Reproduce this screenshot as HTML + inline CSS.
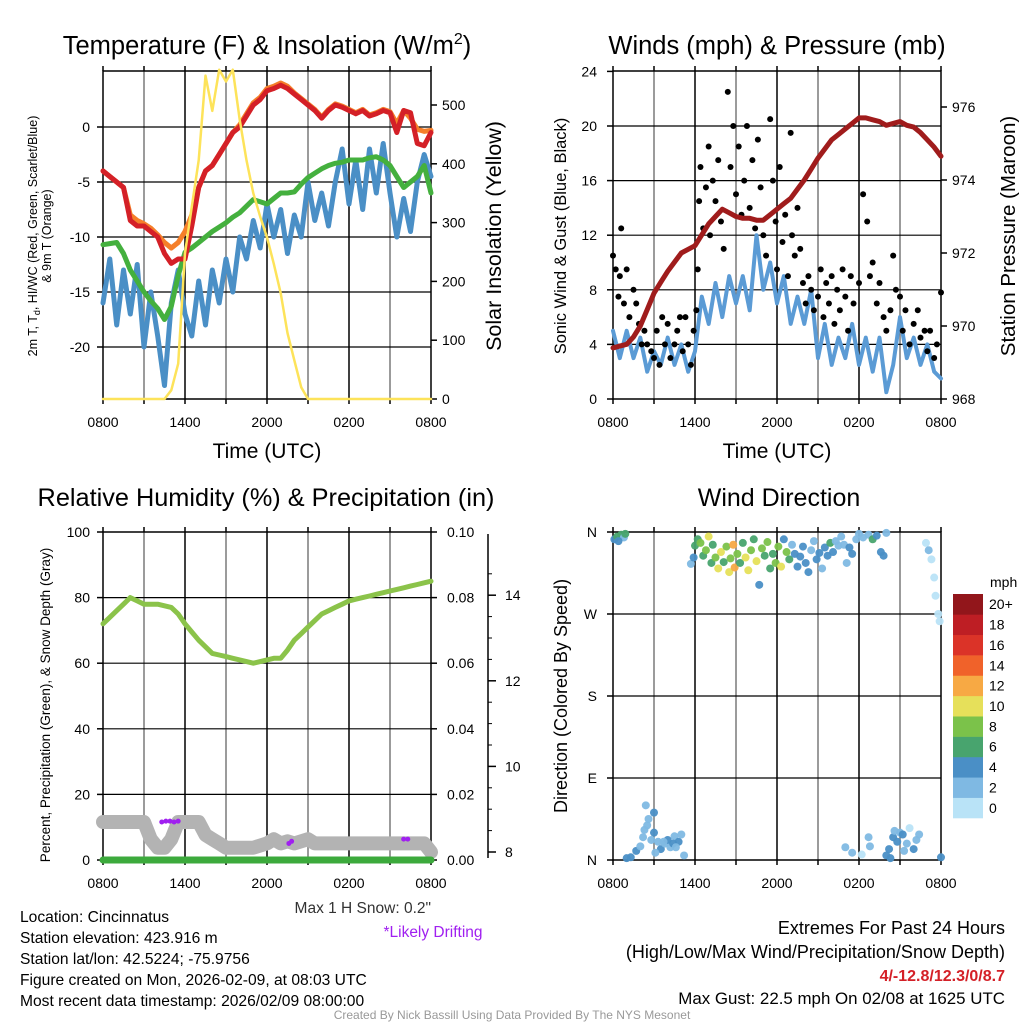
<!DOCTYPE html>
<html><head><meta charset="utf-8"><style>
body{margin:0;background:#fff;font-family:"Liberation Sans",sans-serif}
svg text{font-family:"Liberation Sans",sans-serif}
</style></head><body>
<svg id="s" width="1024" height="1024" viewBox="0 0 1024 1024" xmlns="http://www.w3.org/2000/svg"></svg>
<script>
// ---------- DATA ----------
const hours = [0,0.5,1,1.5,2,2.5,3,3.5,4,4.5,5,5.5,6,6.5,7,7.5,8,8.5,9,9.5,10,10.5,11,11.5,12,12.5,13,13.5,14,14.5,15,15.5,16,16.5,17,17.5,18,18.5,19,19.5,20,20.5,21,21.5,22,22.5,23,23.5,24];
const xTickLabels = ["0800","1400","2000","0200","0800"];
const tempRed = [-4,-4.5,-5,-5.5,-8.5,-9,-9,-9.5,-10,-11.5,-12.4,-12,-12,-9,-5.5,-4,-3.5,-2.5,-1.5,-0.5,0,1,2,2.5,3.3,3.5,3.8,3.5,3,2.5,2,1.5,0.8,1.5,2,1.8,1.5,1.2,1.5,1,1.2,1.5,1.3,-0.5,1.5,1.3,-1.5,-1.7,-0.5,-0.3,0,-1,-3.5];
const tempOrange = [-4,-4.5,-5,-5.5,-8,-8.5,-8.8,-9.2,-9.8,-10.5,-11,-10.5,-9.5,-8,-5.5,-4,-3.5,-2.5,-1.5,-0.5,0.2,1.2,2.2,2.7,3.5,3.7,4,3.7,3.1,2.6,2.1,1.6,0.9,1.6,2.1,1.9,1.6,1.3,1.6,1.1,1.3,1.6,1.4,0.3,1.5,0.8,-0.2,-0.4,-0.3,-0.2,0,-0.3,-1.2];
const tempGreen = [-10.7,-10.6,-10.5,-11.5,-13,-14,-15,-15.8,-16.5,-17.5,-16.3,-13.5,-11.4,-11,-10.5,-10,-9.5,-9.1,-8.7,-8.2,-7.8,-7.2,-6.6,-6.8,-7,-6.5,-6,-6,-5.9,-5.2,-4.6,-4.2,-3.8,-3.5,-3.3,-3.2,-3,-3,-3,-2.8,-2.7,-3,-3.5,-4.5,-5.5,-5,-4.5,-3.5,-6];
const tempBlue = [-16,-12,-18,-13,-17,-12.5,-20,-15,-19,-23.5,-16,-13,-17,-19,-14,-18,-13,-16,-12,-15,-10,-12,-8.5,-11,-7,-10,-7.5,-11.5,-8,-10,-5,-8.5,-6,-9,-5,-2,-7,-3,-7.5,-2,-6,-1.5,-6,-10,-6.5,-9.5,-5,-2.5,-4.5];
const insolation = [0,0,0,0,0,0,0,0,0,0,15,60,248,327,406,550,490,560,540,560,475,406,350,310,275,230,180,112,66,20,0,0,0,0,0,0,0,0,0,0,0,0,0,0,0,0,0,0,0];
const windSpeed = [5,3,5,3,4.5,2,3.5,2.5,4.5,2.5,4,2,3.5,7.5,5.5,8.5,6,9,7,9,6.5,12,8,10,7,9,5.5,7.5,5.5,8,3,5.5,2.5,4.5,3,5.5,2.5,4.5,2,4.5,0.5,2.5,6,3,4.5,2.5,4,2,1.5];
const pressure = [969.4,969.45,969.5,969.7,970.0,970.45,970.9,971.2,971.5,971.75,972.0,972.1,972.2,972.5,972.8,973.0,973.2,973.1,973.0,972.95,972.95,972.9,972.9,973.05,973.2,973.35,973.5,973.75,974.0,974.3,974.6,974.85,975.1,975.25,975.4,975.55,975.7,975.7,975.65,975.6,975.5,975.55,975.6,975.5,975.45,975.3,975.1,974.9,974.65];
const gustHours = [0,0.2,0.4,0.5,0.6,0.8,1,1.2,1.5,1.7,1.9,2.1,2.3,2.5,2.8,3,3.2,3.4,3.6,3.8,4,4.2,4.5,4.7,4.9,5.1,5.3,5.5,5.7,5.9,6.1,6.2,6.3,6.4,6.6,6.8,7,7.1,7.3,7.5,7.7,7.9,8.1,8.4,8.6,8.8,9,9.2,9.4,9.6,9.8,10,10.2,10.4,10.6,10.8,11,11.2,11.5,11.7,11.9,12,12.2,12.4,12.6,12.8,13,13.1,13.3,13.5,13.7,13.9,14.1,14.3,14.5,14.7,15,15.2,15.4,15.6,15.8,16,16.2,16.4,16.6,16.8,17,17.2,17.4,17.6,18,18.3,18.6,18.8,19,19.3,19.5,19.8,20,20.3,20.5,20.7,21,21.2,21.4,21.7,22,22.3,22.5,22.8,23,23.2,23.5,23.7,24];
const gustValues = [10.5,9.5,7.5,9,12.5,7,9.5,6,8,7,5.5,4,5,4,3.5,3,5,2.5,6,4,5.5,3,4,5,6,3.5,6,4,2.5,5,6.5,9.5,14.5,17,12.5,15.5,18.5,12,16,14.5,17.5,13,11,22.5,17,20,15,18.5,13.5,16,20,14,17.5,12.5,19,15.5,12,10.5,20.5,16,13,9.5,17,11.5,13.5,9,19.5,12,10.5,14,11,8.5,7,9,8,6.5,7.5,9.5,6,8.5,7,9,5.5,8,6.5,9.5,7.5,5,9,7,8.5,15,13,9,10,7,8.5,6,5,6.5,10.5,8,7.5,5,6.5,4,5.5,6.5,4.5,5,3.5,5,3,4,7.8];
const rh = [72,74,76,78,80,79,78,78,78,77.5,77,75,72,69.5,67,65,63,62.5,62,61.5,61,60.5,60,60.5,61,61.5,61.5,64,67,69,71,73,75,76,77,78,79,79.5,80,80.5,81,81.5,82,82.5,83,83.5,84,84.5,85];
const precip = [0,0,0,0,0,0,0,0,0,0,0,0,0,0,0,0,0,0,0,0,0,0,0,0,0,0,0,0,0,0,0,0,0,0,0,0,0,0,0,0,0,0,0,0,0,0,0,0,0];
const snowDepth = [8.7,8.7,8.7,8.7,8.7,8.7,8.7,8.3,8.1,8.1,8.3,8.7,8.7,8.7,8.7,8.4,8.3,8.2,8.1,8.1,8.1,8.1,8.1,8.15,8.2,8.3,8.2,8.25,8.2,8.25,8.3,8.2,8.2,8.2,8.2,8.2,8.2,8.2,8.2,8.2,8.2,8.2,8.2,8.2,8.2,8.2,8.2,8.2,8.0];
const driftHours = [4.3,4.6,4.9,5.2,5.5,13.6,13.8,22.0,22.3];
const driftDepth = [8.7,8.72,8.72,8.7,8.72,8.2,8.25,8.3,8.3];
const dirHours = [0.1,0.3,0.6,0.8,0.4,0.9,1,1.3,1.7,2,2.2,2.5,3,3.3,3.5,3.8,4,4.2,4.5,4.8,5,5.2,2.8,3.1,4.4,2.6,2.4,3,2.3,3.7,4.6,5.7,5.9,6,6.2,6.4,6.6,6.8,7,7.2,7.3,7.5,7.7,7.9,8.1,8.3,8.5,8.6,8.8,8.9,9.1,9.3,9.5,9.7,9.9,10.1,10.3,10.5,10.7,10.9,11.1,11.3,11.5,11.7,11.9,12.1,12.3,12.5,12.7,12.9,13.1,13.3,13.5,13.7,13.9,14.1,14.3,14.5,14.7,14.9,15.1,15.3,15.5,15.7,15.9,16.1,16.3,16.5,16.7,16.9,17.1,17.3,17.5,17.8,18,18.3,18.7,19,19.3,19.6,19.8,20,22.9,23.1,23.3,23.5,23.6,23.8,23.9,17,17.5,18.2,18.7,18.8,20,20.2,20.5,20.8,21,21.2,21.5,21.7,22,22.2,22.4,20.6,21.3,20.3,24];
const dirDegrees = [352,355,357,354,350,358,2,3,10,15,25,38,30,20,12,18,22,14,26,20,28,5,22,8,18,45,60,52,33,20,14,325,332,345,352,348,334,340,355,326,346,332,320,338,327,344,316,331,346,321,336,326,348,332,318,340,352,328,302,342,334,349,320,336,326,344,322,352,338,330,346,336,322,333,344,326,316,340,350,330,337,320,343,334,348,338,350,345,355,346,326,343,336,352,358,354,357,352,356,338,334,359,348,340,330,310,290,270,262,14,8,6,25,15,5,12,25,20,30,28,18,35,12,22,28,32,10,2,3];
const dirSpeeds = [4,6,6,2,4,6,4,4,4,2,2,2,4,2,4,2,4,2,2,4,2,2,2,2,4,2,2,4,2,2,2,2,4,6,6,8,6,8,10,6,6,8,10,10,6,8,10,8,12,12,8,6,6,10,10,8,6,10,4,8,6,8,6,6,8,8,10,4,8,6,2,4,4,4,4,4,4,2,2,4,4,2,4,4,6,4,2,2,2,2,2,4,4,2,2,2,2,6,4,4,4,2,0,2,0,0,0,0,0,2,2,0,2,2,4,4,4,4,2,4,2,0,4,2,2,2,2,4,4];
const speedBins = ["0","2","4","6","8","10","12","14","16","18","20+"];
const binColors = ["#b9e3f7","#7fb9e3","#4a8fc6","#48a46e","#7bc24a","#e6e05a","#f7a944","#f0622a","#db3328","#be1e24","#92161b"];

// ---------- HELPERS ----------
const S=document.getElementById('s');
const NS='http://www.w3.org/2000/svg';
function el(tag,attrs,parent){const e=document.createElementNS(NS,tag);for(const k in attrs)e.setAttribute(k,attrs[k]);(parent||S).appendChild(e);return e;}
function txt(x,y,t,size,anchor,extra,parent){const e=el('text',Object.assign({x:x,y:y,'font-size':size,'text-anchor':anchor||'middle',fill:'#000'},extra||{}),parent);e.textContent=t;return e;}
function line(x1,y1,x2,y2,stroke,w,parent){return el('line',{x1:x1,y1:y1,x2:x2,y2:y2,stroke:stroke,'stroke-width':w},parent);}

function panel(x0,y0){return {x0:x0,y0:y0,w:328,h:328,xs:h=>x0+h*328/24};}
const P1=panel(103,71),P2=panel(613,71),P3=panel(103,532),P4=panel(613,532);

function gridAndFrame(P,yTicksPx,name){
  const g=el('g',{});
  
  
  for(let i=1;i<8;i++){const x=P.x0+i*P.w/8;line(x,P.y0,x,P.y0+P.h,i%2?'#7a7a7a':'#000',1.5,g);}
  yTicksPx.forEach(y=>line(P.x0,y,P.x0+P.w,y,'#000',1.2,g));
  const f=el('rect',{x:P.x0,y:P.y0,width:P.w,height:P.h,fill:'none',stroke:'#000','stroke-width':1.5});
  
  
  for(let i=0;i<=8;i++){const x=P.x0+i*P.w/8;line(x,P.y0+P.h,x,P.y0+P.h+5,'#000',1.5);line(x,P.y0,x,P.y0-5,'#000',1.5);}
  xTickLabels.forEach((t,i)=>{const e=txt(P.x0+i*P.w/4,P.y0+P.h+28,t,14,'middle');
    
    });
}
function pathFrom(xs,ys,P,yScale){return xs.map((h,i)=>(i?'L':'M')+P.xs(h).toFixed(1)+','+yScale(ys[i]).toFixed(1)).join(' ');}
function series(xs,ys,P,yScale,color,w,name){const p=el('path',{d:pathFrom(xs,ys,P,yScale),fill:'none',stroke:color,'stroke-width':w,'stroke-linejoin':'round','stroke-linecap':'round'});
  
  return p;}

// ---------- PANEL 1 ----------
const yT=v=>127-v*11;
const yI=v=>399-v*0.588;
gridAndFrame(P1,[-20,-15,-10,-5,0].map(yT),'temp-panel');
[-20,-15,-10,-5,0].forEach(v=>{line(97,yT(v),103,yT(v),'#000',1.5);const e=txt(90,yT(v)+5,String(v),14,'end');
  
  });
[0,100,200,300,400,500].forEach(v=>{line(431,yI(v),437,yI(v),'#000',1.5);const e=txt(442,yI(v)+5,String(v),14,'start');
  
  });
series(hours,tempBlue,P1,yT,'#4a8fc6',5,'windchill-line');
series(hours,tempGreen,P1,yT,'#44b03e',5,'dewpoint-line');
series(hours,tempOrange,P1,yT,'#f57f2a',5,'temp-9m-line');
series(hours,tempRed,P1,yT,'#d42027',5,'temp-2m-line');
series(hours,insolation,P1,yI,'#fde35a',2.5,'insolation-line');
{let e=el('text',{x:267,y:54,'font-size':25.5,'text-anchor':'middle'});e.innerHTML='Temperature (F) &amp; Insolation (W/m<tspan dy="-10" font-size="16">2</tspan><tspan dy="10">)</tspan>';
 
 }
{let e=txt(267,458,'Time (UTC)',21);}
{let e=el('text',{x:0,y:0,'font-size':12.5,'text-anchor':'middle',transform:'translate(37,236) rotate(-90)'});e.innerHTML='2m T, T<tspan dy="3" font-size="9">d</tspan><tspan dy="-3">, HI/WC (Red, Green, Scarlet/Blue)</tspan>';
 
 let e2=txt(0,0,'& 9m T (Orange)',12.5,'middle',{transform:'translate(51,236) rotate(-90)'});}
{let e=txt(0,0,'Solar Insolation (Yellow)',21.5,'middle',{transform:'translate(501,236) rotate(-90)'});}

// ---------- PANEL 2 ----------
const yW=v=>399-v*13.65;
const yP=v=>399-(v-968)*36.5;
gridAndFrame(P2,[4,8,12,16,20].map(yW),'wind-panel');
[0,4,8,12,16,20,24].forEach(v=>{line(607,yW(v),613,yW(v),'#000',1.5);const e=txt(597,yW(v)+5,String(v),14,'end');
  });
[968,970,972,974,976].forEach(v=>{line(941,yP(v),947,yP(v),'#000',1.5);const e=txt(952,yP(v)+5,String(v),14,'start');
  });
series(hours,windSpeed,P2,yW,'#5b9bd5',4,'sonic-wind-line');
gustHours.forEach((h,i)=>{const c=el('circle',{cx:P2.xs(h),cy:yW(gustValues[i]),r:3,fill:'#000'});
  
  });
series(hours,pressure,P2,yP,'#a01c1c',5,'pressure-line');
{let e=txt(777,54,'Winds (mph) & Pressure (mb)',25.5);}
{let e=txt(777,458,'Time (UTC)',21);}
{let e=txt(0,0,'Sonic Wind & Gust (Blue, Black)',16.5,'middle',{transform:'translate(566,236) rotate(-90)'});}
{let e=txt(0,0,'Station Pressure (Maroon)',20.5,'middle',{transform:'translate(1015,236) rotate(-90)'});}

// ---------- PANEL 3 ----------
const yR=v=>860-v*3.28;
const yPr=v=>860-v*3280;
const yS=v=>852-(v-8)*42.8;
gridAndFrame(P3,[20,40,60,80].map(yR),'rh-panel');
[0,20,40,60,80,100].forEach(v=>{line(97,yR(v),103,yR(v),'#000',1.5);const e=txt(90,yR(v)+5,String(v),14,'end');
  });
[0,0.02,0.04,0.06,0.08,0.1].forEach(v=>{line(431,yPr(v),437,yPr(v),'#000',1.5);const e=txt(447,yPr(v)+5,v.toFixed(2),14,'start');
  });
{const a=line(488,534,488,858,'#000',1.5);}
[8,10,12,14].forEach(v=>{line(488,yS(v),496,yS(v),'#000',1.5);const e=txt(505,yS(v)+5,String(v),14,'start');
  });
for(let v=8.5;v<15;v+=0.5){if(v%2)line(488,yS(v),492,yS(v),'#000',1);}
series(hours,snowDepth,P3,yS,'#b3b3b3',14,'snow-depth-line');
series(hours,precip,P3,yPr,'#3caa3c',7,'precip-line');
driftHours.forEach((h,i)=>{const c=el('circle',{cx:P3.xs(h),cy:yS(driftDepth[i]),r:2.5,fill:'#a020f0'});
  });
series(hours,rh,P3,yR,'#8bc34a',5,'rh-line');
{let e=txt(266,506,'Relative Humidity (%) & Precipitation (in)',25.3);}
{let e=txt(0,0,'Percent, Precipitation (Green), & Snow Depth (Gray)',13.5,'middle',{transform:'translate(50,705) rotate(-90)'});}

// ---------- PANEL 4 ----------
const yD=v=>860-v*328/360;
gridAndFrame(P4,[90,180,270].map(yD),'dir-panel');
[['N',0],['E',90],['S',180],['W',270],['N',360]].forEach(([t,v])=>{line(607,yD(v),613,yD(v),'#000',1.5);const e=txt(597,yD(v)+5,t,14,'end');
  });
dirHours.forEach((h,i)=>{const b=Math.min(10,Math.floor(dirSpeeds[i]/2));const c=el('circle',{cx:P4.xs(h),cy:yD(dirDegrees[i]),r:4,fill:binColors[b],opacity:0.95});
  });
{let e=txt(779,506,'Wind Direction',25);}
{let e=txt(0,0,'Direction (Colored By Speed)',18,'middle',{transform:'translate(567,696) rotate(-90)'});}
{const g=el('g',{});
 const bh=224/11;
 binColors.forEach((c,i)=>{el('rect',{x:953,y:818-(i+1)*bh,width:30,height:bh+0.3,fill:c},g);
   const t=txt(989,818-i*bh-bh/2+5,speedBins[i],14,'start',{},g);
   });
 const u=txt(990,587,'mph',14,'start',{},g);}

// ---------- FOOTER TEXT ----------
const leftLines=['Location: Cincinnatus','Station elevation: 423.916 m','Station lat/lon: 42.5224; -75.9756','Figure created on Mon, 2026-02-09, at 08:03 UTC','Most recent data timestamp: 2026/02/09 08:00:00'];
leftLines.forEach((t,i)=>{const e=txt(20,922+i*21,t,15.6,'start');});
{let e=txt(431,913,'Max 1 H Snow: 0.2"',15.5,'end',{fill:'#333'});}
{let e=txt(433,937,'*Likely Drifting',15.5,'middle',{fill:'#a020f0'});}
{let e=txt(1005,934,'Extremes For Past 24 Hours',18,'end');}
{let e=txt(1005,958,'(High/Low/Max Wind/Precipitation/Snow Depth)',18,'end');}
{let e=txt(1005,981,'4/-12.8/12.3/0/8.7',16,'end',{fill:'#d42027','font-weight':'bold'});}
{let e=txt(1005,1004,'Max Gust: 22.5 mph On 02/08 at 1625 UTC',16.9,'end');}
{let e=txt(512,1019,'Created By Nick Bassill Using Data Provided By The NYS Mesonet',12,'middle',{fill:'#999'});}
</script>
</body></html>
